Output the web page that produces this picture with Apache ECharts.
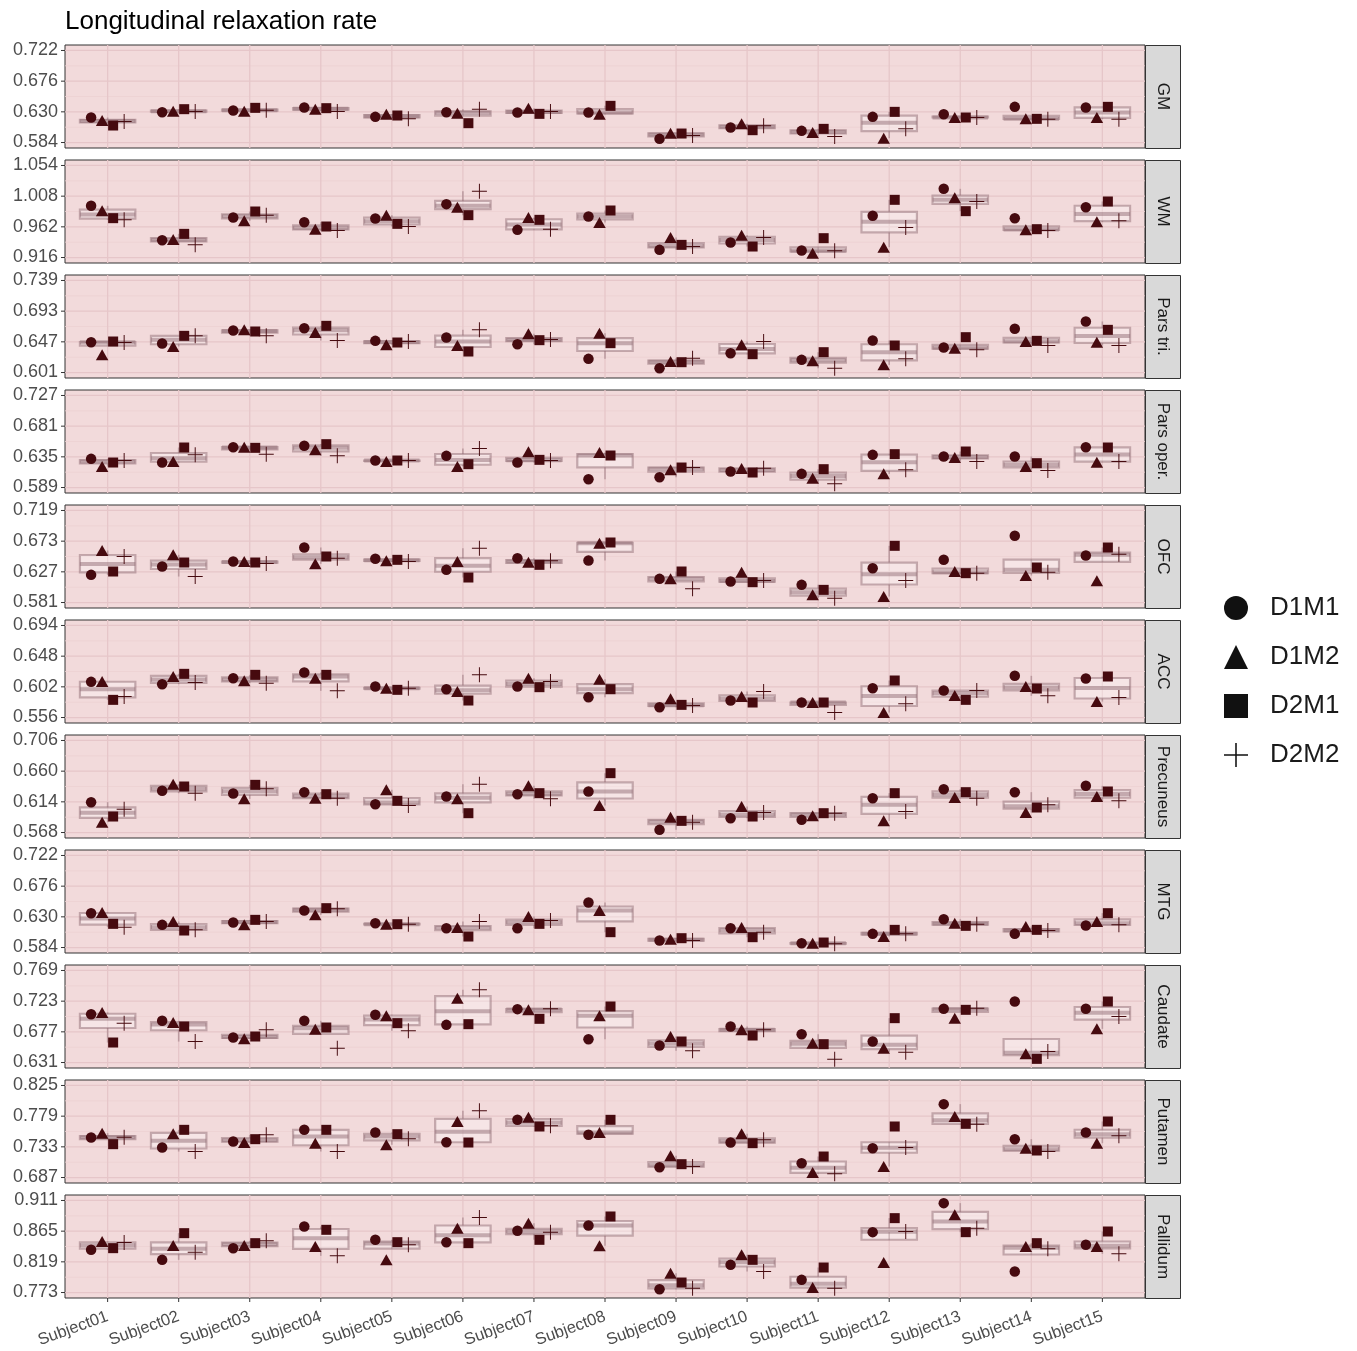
<!DOCTYPE html>
<html><head><meta charset="utf-8">
<script src="https://cdn.jsdelivr.net/npm/echarts@6/dist/echarts.min.js"></script>
<style>html,body{margin:0;padding:0;background:#fff}#c{width:1357px;height:1351px}</style>
</head><body><div id="c"></div>
<script>
const subjects = ['Subject01','Subject02','Subject03','Subject04','Subject05','Subject06','Subject07','Subject08','Subject09','Subject10','Subject11','Subject12','Subject13','Subject14','Subject15'];
const regions = ['GM','WM','Pars tri.','Pars oper.','OFC','ACC','Precuneus','MTG','Caudate','Putamen','Pallidum'];
const groups = ['D1M1','D1M2','D2M1','D2M2'];
const yTicks = [
  [0.584,0.630,0.676,0.722],
  [0.916,0.962,1.008,1.054],
  [0.601,0.647,0.693,0.739],
  [0.589,0.635,0.681,0.727],
  [0.581,0.627,0.673,0.719],
  [0.556,0.602,0.648,0.694],
  [0.568,0.614,0.660,0.706],
  [0.584,0.630,0.676,0.722],
  [0.631,0.677,0.723,0.769],
  [0.687,0.733,0.779,0.825],
  [0.773,0.819,0.865,0.911]
];
// each region: rows D1M1, D1M2, D2M1, D2M2 ; columns Subject01..Subject15
const GM = [
  [0.6215,0.6295,0.632,0.6365,0.6225,0.6295,0.629,0.629,0.5895,0.6065,0.6015,0.6225,0.6265,0.6375,0.6365],
  [0.617,0.631,0.631,0.634,0.6265,0.628,0.6355,0.6265,0.598,0.612,0.599,0.5905,0.6215,0.6195,0.6215],
  [0.6095,0.634,0.636,0.6355,0.6245,0.613,0.627,0.639,0.5975,0.6025,0.6045,0.63,0.6215,0.6195,0.6375],
  [0.6155,0.6305,0.6325,0.6305,0.6195,0.634,0.6305,null,0.5945,0.609,0.593,0.6045,0.6215,0.619,0.619]
];
const WM = [
  [0.9935,0.942,0.976,0.969,0.9745,0.996,0.9575,0.9775,0.9275,0.9385,0.9265,0.9785,1.019,0.975,0.9915],
  [0.986,0.943,0.971,0.9585,0.9795,0.9915,0.976,0.9685,0.946,0.9495,0.9225,0.9315,1.0055,0.9575,0.9695],
  [0.975,0.9515,0.985,0.9625,0.9665,0.9795,0.9725,0.9865,0.935,0.9325,0.945,1.0025,0.9855,0.9585,1.000],
  [0.9725,0.935,0.9795,0.9565,0.9625,1.0155,0.9585,null,0.9325,0.946,0.926,0.961,1.000,0.9565,0.971]
];
const ParsTri = [
  [0.6465,0.6445,0.664,0.6675,0.6485,0.6535,0.6435,0.6215,0.6075,0.63,0.62,0.649,0.6385,0.6665,0.6775],
  [0.6275,0.64,0.665,0.661,0.6425,0.6415,0.659,0.66,0.6175,0.6425,0.6185,0.6125,0.6375,0.6475,0.6465],
  [0.6475,0.656,0.6625,0.671,0.646,0.6325,0.6495,0.645,0.6165,0.6285,0.6315,0.6415,0.654,0.6485,0.665],
  [0.646,0.656,0.656,0.649,0.6475,0.665,0.6505,null,0.6225,0.6475,0.6075,0.6215,0.635,0.6415,0.6415]
];
const ParsOper = [
  [0.632,0.6265,0.6495,0.6515,0.6295,0.6365,0.6265,0.6015,0.6045,0.613,0.6095,0.638,0.6355,0.6355,0.6495],
  [0.6205,0.628,0.6495,0.6455,0.628,0.6205,0.6425,0.6415,0.6155,0.6175,0.603,0.6095,0.634,0.6205,0.627],
  [0.6265,0.649,0.6485,0.654,0.6295,0.624,0.6305,0.637,0.619,0.6115,0.6165,0.639,0.643,0.6255,0.649],
  [0.6295,0.638,0.639,0.6365,0.6295,0.6475,0.6295,null,0.619,0.618,0.5945,0.6155,0.628,0.6145,0.628]
];
const OFC = [
  [0.6225,0.635,0.6425,0.6635,0.6465,0.63,0.6475,0.644,0.6165,0.6125,0.6075,0.6325,0.645,0.681,0.6515],
  [0.659,0.6525,0.6425,0.639,0.6435,0.6425,0.6415,0.67,0.6165,0.6265,0.5925,0.59,0.6275,0.6215,0.6135],
  [0.6275,0.641,0.641,0.65,0.645,0.6185,0.6375,0.671,0.6275,0.6115,0.6,0.666,0.625,0.6335,0.6635],
  [0.65,0.62,0.6395,0.6475,0.6425,0.6625,0.6435,null,0.6015,0.614,0.5875,0.614,0.625,0.6265,0.6535]
];
const ACC = [
  [0.6095,0.606,0.615,0.6235,0.6025,0.5985,0.6025,0.5865,0.5715,0.5815,0.5785,0.6,0.5965,0.6185,0.6145],
  [0.61,0.6175,0.611,0.615,0.6,0.595,0.615,0.6135,0.584,0.5875,0.5785,0.5635,0.589,0.6025,0.58],
  [0.5825,0.6215,0.62,0.62,0.5975,0.5815,0.6015,0.5985,0.575,0.5785,0.5785,0.6115,0.5825,0.5995,0.6175],
  [0.5875,0.6085,0.6075,0.596,0.6,0.62,0.61,null,0.574,0.595,0.5635,0.5765,0.5965,0.5885,0.586]
];
const Precuneus = [
  [0.6135,0.6305,0.6265,0.6285,0.6105,0.622,0.6255,0.6295,0.572,0.5895,0.587,0.6195,0.633,0.6285,0.638],
  [0.5835,0.6405,0.6185,0.6195,0.632,0.6185,0.638,0.6085,0.591,0.607,0.593,0.5855,0.6205,0.598,0.622],
  [0.592,0.637,0.6395,0.6255,0.6155,0.597,0.627,0.657,0.5855,0.592,0.597,0.627,0.6285,0.6055,0.6295],
  [0.603,0.627,0.6335,0.6195,0.6085,0.6405,0.6185,null,0.5835,0.598,0.597,0.5995,0.6195,0.6095,0.6155]
];
const MTG = [
  [0.6355,0.618,0.6215,0.6395,0.6205,0.613,0.613,0.6515,0.5945,0.613,0.5905,0.6045,0.6265,0.6045,0.617],
  [0.6365,0.623,0.618,0.633,0.619,0.614,0.6305,0.6395,0.5965,0.614,0.5905,0.6005,0.6205,0.6155,0.623],
  [0.6195,0.6095,0.6255,0.643,0.619,0.6005,0.6195,0.607,0.598,0.5995,0.5915,0.6105,0.6165,0.6105,0.6355],
  [0.6145,0.6105,0.623,0.642,0.619,0.623,0.6245,null,0.5945,0.607,0.5895,0.6045,0.619,0.6095,0.618]
];
const Caudate = [
  [0.7035,0.6935,0.6685,0.6935,0.7025,0.6875,0.711,0.666,0.6565,0.685,0.6735,0.6625,0.7115,0.7225,0.7115],
  [0.706,0.691,0.6665,0.681,0.701,0.7275,0.71,0.701,0.67,0.68,0.66,0.6525,0.6975,0.644,0.6815],
  [0.661,0.685,0.67,0.6835,0.69,0.6885,0.6965,0.715,0.6625,0.6715,0.6585,0.6975,0.71,0.6365,0.7225],
  [0.69,0.6625,0.68,0.6525,0.6785,0.74,0.7115,null,0.6485,0.68,0.636,0.6465,0.7125,0.6475,0.7]
];
const Putamen = [
  [0.747,0.732,0.741,0.7585,0.7545,0.74,0.7735,0.751,0.7025,0.7395,0.7085,0.731,0.797,0.7445,0.7545],
  [0.7535,0.7525,0.7395,0.7385,0.736,0.771,0.7775,0.7545,0.7195,0.7525,0.6945,0.7035,0.7785,0.731,0.7385],
  [0.737,0.7585,0.7445,0.7585,0.752,0.7395,0.7635,0.7735,0.707,0.7385,0.7185,0.7635,0.7675,0.7275,0.771],
  [0.7475,0.726,0.751,0.726,0.745,0.787,0.7645,null,0.7035,0.7435,0.6925,0.732,0.767,0.726,0.7495]
];
const Pallidum = [
  [0.837,0.822,0.8395,0.872,0.852,0.8485,0.8655,0.8735,0.778,0.8145,0.792,0.8635,0.907,0.8045,0.8445],
  [0.8495,0.8435,0.8435,0.842,0.822,0.8695,0.877,0.843,0.802,0.8295,0.7805,0.818,0.8895,0.842,0.842],
  [0.8395,0.862,0.847,0.867,0.8485,0.847,0.852,0.887,0.788,0.822,0.8105,0.8845,0.8635,0.847,0.8645],
  [0.848,0.8335,0.8505,0.828,0.8445,0.8855,0.8635,null,0.7795,0.8045,0.7795,0.8645,0.8695,0.8385,0.831]
];
const regionData = [GM, WM, ParsTri, ParsOper, OFC, ACC, Precuneus, MTG, Caudate, Putamen, Pallidum];

// ---------- styling / layout ----------
const FONT = '"Liberation Sans", Arial, Helvetica, sans-serif';
const LEFT = 65, PW = 1080, TOP0 = 45, PH = 103, STEP = 115, STRIPW = 35;
const XMIN = -0.6, XMAX = 14.6;
const PADY = 0.0082;
const BG = '#f2dadb', MAJOR = '#e6c6c9', MINOR = '#ecd0d2';
const PT = '#460a0f';
const BOXLINE = 'rgba(145,110,118,0.5)';
const DODGE = [-0.2325, -0.0775, 0.0775, 0.2325];
const BOXW = 0.78;
const PLUS = 'path://M-0.065,-1L0.065,-1L0.065,-0.065L1,-0.065L1,0.065L0.065,0.065L0.065,1L-0.065,1L-0.065,0.065L-1,0.065L-1,-0.065L-0.065,-0.065Z';
const SYMS = ['circle', 'triangle', 'rect', PLUS];
const SIZES = [10.5, [12.5, 11], 10, 15];

function quant(s, p) {
  const h = (s.length - 1) * p, lo = Math.floor(h), hi = Math.min(lo + 1, s.length - 1);
  return s[lo] + (h - lo) * (s[hi] - s[lo]);
}
function boxStats(vals) {
  const s = vals.filter(v => v != null).sort((a, b) => a - b);
  const q1 = quant(s, 0.25), md = quant(s, 0.5), q3 = quant(s, 0.75), iqr = q3 - q1;
  const lo = Math.min(...s.filter(v => v >= q1 - 1.5 * iqr));
  const hi = Math.max(...s.filter(v => v <= q3 + 1.5 * iqr));
  return [lo, q1, md, q3, hi];
}

const grids = [], xAxes = [], yAxes = [], series = [], graphics = [];
regionData.forEach((rd, r) => {
  const top = TOP0 + r * STEP;
  const ticks = yTicks[r];
  const ymin = ticks[0] - PADY, ymax = ticks[3] + PADY;
  const last = r === regionData.length - 1;
  grids.push({left: LEFT, top: top, width: PW, height: PH, show: true, backgroundColor: BG,
    borderColor: '#333333', borderWidth: 1, containLabel: false});
  xAxes.push({type: 'value', gridIndex: r, min: XMIN, max: XMAX,
    axisLine: {show: false}, splitLine: {show: false}, axisTick: {show: false},
    axisLabel: {show: last, customValues: subjects.map((s, i) => i), formatter: v => subjects[Math.round(v)] || '',
      rotate: 20, margin: 18, fontSize: 16.5, color: '#4d4d4d', fontFamily: FONT}
  });
  yAxes.push({type: 'value', gridIndex: r, min: ymin, max: ymax,
    axisLine: {show: false}, splitLine: {show: false}, axisTick: {show: false},
    axisLabel: {customValues: ticks, formatter: v => v.toFixed(3), margin: 7, fontSize: 18, color: '#4d4d4d', fontFamily: FONT}
  });
  // grid lines and tick marks
  const gl = [];
  ticks.forEach(t => gl.push([0, t]));
  for (let k = 0; k < 3; k++) gl.push([1, (ticks[k] + ticks[k + 1]) / 2]);
  subjects.forEach((s, i) => gl.push([2, i]));
  series.push({type: 'custom', xAxisIndex: r, yAxisIndex: r, z: 1, silent: true, clip: false, data: gl,
    renderItem: (p, api) => {
      const k = api.value(0), v = api.value(1);
      let a, b;
      if (k < 2) { a = api.coord([XMIN, v]); b = api.coord([XMAX, v]); }
      else { a = api.coord([v, ymin]); b = api.coord([v, ymax]); }
      const ch = [{type: 'line', shape: {x1: a[0], y1: a[1], x2: b[0], y2: b[1]},
        style: {stroke: k === 1 ? MINOR : MAJOR, lineWidth: k === 1 ? 0.8 : 1.3}}];
      if (k === 0) ch.push({type: 'line', shape: {x1: a[0] - 4, y1: a[1], x2: a[0], y2: a[1]},
        style: {stroke: '#333333', lineWidth: 1}});
      if (k === 2 && last) ch.push({type: 'line', shape: {x1: a[0], y1: a[1], x2: a[0], y2: a[1] + 4},
        style: {stroke: '#333333', lineWidth: 1}});
      return {type: 'group', children: ch};
    }
  });
  // boxplots
  const boxes = subjects.map((s, i) => [i].concat(boxStats([rd[0][i], rd[1][i], rd[2][i], rd[3][i]])));
  series.push({type: 'custom', xAxisIndex: r, yAxisIndex: r, z: 2, silent: true, data: boxes,
    renderItem: (p, api) => {
      const x = api.value(0);
      const lo = api.coord([x, api.value(1)]), q1 = api.coord([x, api.value(2)]),
            md = api.coord([x, api.value(3)]), q3 = api.coord([x, api.value(4)]), hi = api.coord([x, api.value(5)]);
      const w = api.size([BOXW, 0])[0];
      const st = {stroke: BOXLINE, lineWidth: 1.6};
      return {type: 'group', children: [
        {type: 'line', shape: {x1: lo[0], y1: lo[1], x2: lo[0], y2: q1[1]}, style: st},
        {type: 'line', shape: {x1: hi[0], y1: q3[1], x2: hi[0], y2: hi[1]}, style: st},
        {type: 'rect', shape: {x: q1[0] - w / 2, y: q3[1], width: w, height: Math.max(q1[1] - q3[1], 0.5)},
          style: {fill: 'rgba(255,255,255,0.3)', stroke: BOXLINE, lineWidth: 2.2}},
        {type: 'line', shape: {x1: md[0] - w / 2, y1: md[1], x2: md[0] + w / 2, y2: md[1]},
          style: {stroke: BOXLINE, lineWidth: 4}}
      ]};
    }
  });
  // points
  groups.forEach((g, gi) => {
    const pts = [];
    rd[gi].forEach((v, i) => { if (v != null) pts.push([i + DODGE[gi], v]); });
    series.push({type: 'scatter', name: g, xAxisIndex: r, yAxisIndex: r, z: 3, data: pts,
      symbol: SYMS[gi], symbolSize: SIZES[gi], itemStyle: {color: PT, opacity: 1}, silent: true});
  });
  // strip
  graphics.push({type: 'rect', left: LEFT + PW, top: top, shape: {width: STRIPW, height: PH},
    style: {fill: '#d9d9d9', stroke: '#333333', lineWidth: 1}, z: 10});
  graphics.push({type: 'text', x: LEFT + PW + STRIPW / 2, y: top + PH / 2, rotation: -Math.PI / 2,
    style: {text: regions[r], fill: '#1a1a1a', font: '17px ' + FONT, align: 'center', verticalAlign: 'middle'}, z: 11});
});

const chart = echarts.init(document.getElementById('c'));
chart.setOption({
  animation: false,
  backgroundColor: '#ffffff',
  title: {text: 'Longitudinal relaxation rate', left: 65, top: 4, padding: [5, 5, 5, 0],
    textStyle: {fontSize: 26, fontWeight: 'normal', color: '#000000', fontFamily: FONT}},
  legend: {orient: 'vertical', left: 1224, top: 595, padding: 0, itemWidth: 24, itemHeight: 24, itemGap: 23,
    selectedMode: false,
    textStyle: {fontSize: 26, color: '#1a1a1a', fontFamily: FONT, padding: [0, 0, 0, 17]},
    data: groups.map((g, i) => ({name: g, icon: SYMS[i], itemStyle: {color: '#111111'}}))},
  grid: grids, xAxis: xAxes, yAxis: yAxes, series: series, graphic: graphics
});
</script></body></html>
